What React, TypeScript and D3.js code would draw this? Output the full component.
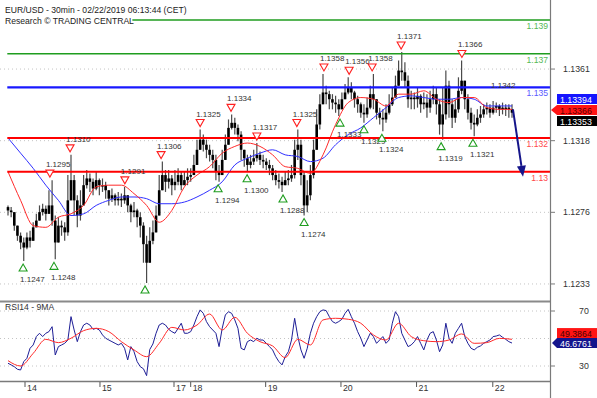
import React from 'react';
import * as d3 from 'd3';

// ---------- data (hourly bars; hour 0 = first bar on the left) ----------
const OPEN0 = 1.1279;
const closes = [
  1.1277,1.1276,1.1268,1.1262,1.1258,1.1255,1.1261,1.1259,1.1267,1.1271,
  1.1276,1.1278,1.1275,1.1280,1.1271,1.1258,1.1268,1.1267,1.1264,1.1283,
  1.1295,1.1283,1.1274,1.1280,1.1292,1.1296,1.1294,1.1290,1.1295,1.1292,
  1.1292,1.1289,1.1284,1.1286,1.1283,1.1284,1.1283,1.1286,1.1280,1.1276,
  1.1277,1.1273,1.1268,1.1257,1.1246,1.1259,1.1264,1.1274,1.1289,1.1298,
  1.1294,1.1296,1.1292,1.1294,1.1298,1.1292,1.1295,1.1297,1.1298,1.1304,
  1.1313,1.1319,1.1316,1.1313,1.1310,1.1307,1.1300,1.1298,1.1307,1.1316,
  1.1326,1.1329,1.1326,1.1322,1.1313,1.1308,1.1304,1.1306,1.1308,1.1310,
  1.1307,1.1306,1.1304,1.1302,1.1298,1.1295,1.1294,1.1292,1.1295,1.1296,
  1.1298,1.1313,1.1316,1.1298,1.1280,1.1286,1.1298,1.1313,1.1328,1.1340,
  1.1347,1.1346,1.1343,1.1341,1.1340,1.1337,1.1343,1.1347,1.1350,1.1347,
  1.1343,1.1340,1.1335,1.1334,1.1338,1.1346,1.1343,1.1335,1.1332,1.1331,
  1.1335,1.1340,1.1344,1.1351,1.1360,1.1359,1.1354,1.1343,1.1344,1.1343,
  1.1345,1.1340,1.1341,1.1338,1.1343,1.1346,1.1340,1.1328,1.1334,1.1351,
  1.1340,1.1332,1.1337,1.1348,1.1354,1.1343,1.1335,1.1329,1.1328,1.1332,
  1.1334,1.1337,1.1338,1.1335,1.1338,1.1339,1.1337,1.1338,1.1338,1.1337,
  1.1335,
];
const highs = [
  1.1280,1.1279,1.1276,1.1268,1.1264,1.1261,1.1264,1.1265,1.1270,1.1275,
  1.1280,1.1281,1.1280,1.1289,1.1295,1.1274,1.1273,1.1271,1.1270,1.1298,
  1.1310,1.1298,1.1286,1.1289,1.1298,1.1301,1.1299,1.1296,1.1300,1.1296,
  1.1296,1.1294,1.1289,1.1290,1.1287,1.1288,1.1287,1.1291,1.1286,1.1281,
  1.1282,1.1278,1.1276,1.1270,1.1262,1.1267,1.1271,1.1280,1.1298,1.1306,
  1.1301,1.1301,1.1298,1.1301,1.1302,1.1300,1.1300,1.1302,1.1302,1.1310,
  1.1319,1.1325,1.1322,1.1319,1.1316,1.1313,1.1310,1.1304,1.1313,1.1322,
  1.1331,1.1334,1.1332,1.1328,1.1324,1.1313,1.1310,1.1310,1.1313,1.1317,
  1.1312,1.1310,1.1308,1.1307,1.1304,1.1301,1.1299,1.1297,1.1300,1.1301,
  1.1304,1.1319,1.1325,1.1319,1.1300,1.1295,1.1304,1.1319,1.1337,1.1346,
  1.1358,1.1351,1.1348,1.1346,1.1345,1.1343,1.1347,1.1352,1.1356,1.1353,
  1.1348,1.1345,1.1341,1.1340,1.1344,1.1351,1.1358,1.1343,1.1338,1.1337,
  1.1340,1.1346,1.1350,1.1357,1.1366,1.1371,1.1365,1.1357,1.1348,1.1347,
  1.1350,1.1346,1.1347,1.1346,1.1348,1.1351,1.1350,1.1343,1.1350,1.1360,
  1.1354,1.1343,1.1343,1.1356,1.1366,1.1353,1.1346,1.1338,1.1334,1.1337,
  1.1339,1.1340,1.1341,1.1340,1.1342,1.1341,1.1340,1.1341,1.1340,1.1340,
  1.1340,
];
const lows = [
  1.1274,1.1273,1.1265,1.1259,1.1254,1.1247,1.1254,1.1255,1.1261,1.1268,
  1.1273,1.1274,1.1271,1.1276,1.1268,1.1248,1.1259,1.1262,1.1259,1.1262,
  1.1289,1.1274,1.1267,1.1271,1.1286,1.1290,1.1288,1.1286,1.1289,1.1286,
  1.1288,1.1284,1.1280,1.1282,1.1280,1.1280,1.1279,1.1281,1.1276,1.1270,
  1.1273,1.1267,1.1261,1.1246,1.1234,1.1251,1.1257,1.1267,1.1274,1.1292,
  1.1288,1.1290,1.1286,1.1289,1.1292,1.1289,1.1292,1.1292,1.1294,1.1298,
  1.1306,1.1313,1.1312,1.1308,1.1306,1.1302,1.1295,1.1294,1.1298,1.1307,
  1.1319,1.1325,1.1322,1.1318,1.1307,1.1303,1.1300,1.1302,1.1304,1.1306,
  1.1304,1.1302,1.1301,1.1298,1.1295,1.1292,1.1290,1.1288,1.1292,1.1292,
  1.1294,1.1296,1.1307,1.1292,1.1274,1.1276,1.1283,1.1296,1.1313,1.1325,
  1.1340,1.1340,1.1337,1.1337,1.1335,1.1333,1.1337,1.1343,1.1346,1.1343,
  1.1338,1.1335,1.1332,1.1329,1.1332,1.1337,1.1337,1.1331,1.1328,1.1324,
  1.1329,1.1334,1.1339,1.1346,1.1353,1.1354,1.1350,1.1338,1.1337,1.1337,
  1.1338,1.1335,1.1337,1.1332,1.1335,1.1340,1.1334,1.1322,1.1319,1.1331,
  1.1332,1.1326,1.1329,1.1335,1.1346,1.1337,1.1331,1.1325,1.1321,1.1327,
  1.1329,1.1332,1.1334,1.1332,1.1334,1.1335,1.1333,1.1334,1.1333,1.1332,
  1.1332,
];

// moving averages, one value every 4 hours
const MA_STEP = 4;
const maLong = [1.1320,1.1311,1.1302,1.1292,1.1283,1.1274,1.1275,1.1280,1.1283,1.1285,1.1285,1.1284,1.1281,1.1281,1.1282,1.1285,1.1289,1.1294,1.1304,1.1308,1.1311,1.1313,1.1310,1.1309,1.1306,1.1308,1.1316,1.1322,1.1326,1.1332,1.1338,1.1344,1.1345,1.1344,1.1343,1.1343,1.1344,1.1343,1.1339,1.1339,1.1339];
const maShort = [1.1300,1.1283,1.1268,1.1267,1.1273,1.1275,1.1280,1.1291,1.1292,1.1292,1.1287,1.1280,1.1270,1.1277,1.1291,1.1298,1.1303,1.1311,1.1315,1.1317,1.1315,1.1310,1.1303,1.1302,1.1299,1.1310,1.1328,1.1341,1.1344,1.1343,1.1339,1.1346,1.1346,1.1348,1.1343,1.1341,1.1344,1.1344,1.1338,1.1337,1.1337];

// RSI14 (hourly) and its 9MA (every 4 hours)
const rsi = [
  32,30.8,29.5,27.6,27.1,33.2,35.6,42.9,45.3,51.4,
  53.8,51.4,53.8,55,58.6,38,44.1,45.3,46.5,48.9,
  65.9,56.2,47.7,55,59.8,61.1,59.8,56.7,57.4,56.2,
  52.6,50.2,48.9,47.7,46.5,45.3,46.5,42.9,34.4,44.1,
  40.4,33.2,29.5,28,23,42,46,53.8,59.8,61.1,
  59.8,56.7,55,53.8,57.4,61.1,53.8,53.8,55,59.8,
  65.9,70.8,68.3,62.3,58.6,56.2,53.8,44.1,57.4,67.1,
  69.5,68.3,63.5,57.4,42.9,41.7,47.7,48.9,47.7,50.2,
  48.9,48.9,46.5,44.1,41.7,36.8,33.2,30.8,36.8,40.4,
  48.9,64.7,51.4,41.7,35.6,42.9,53.8,61.1,65.9,69.5,
  70.8,70.3,65.9,62.3,61.1,62.3,64,68.3,71.2,65.9,
  61.1,55,50.2,44.1,48.9,53.8,51.4,46.5,48.9,51.4,
  46.5,48.9,61.1,69.5,65.9,53.8,48.9,44.1,45.3,47.7,
  51.4,46.5,41.7,48.9,53.8,55,48.9,40.4,45.3,61.1,
  50.2,46.5,53.8,57.4,61.1,51.4,46.5,42.9,41.7,43.6,
  44.6,46.5,47.7,48.9,51.4,51.8,52.6,50.9,49.4,47.7,
  46.7,
];
const rsiMA = [33.9,30,39.2,49.4,47,50.2,55.7,57.4,55,47.7,41.7,36.8,46.5,58.1,56.2,59.8,67.8,56.2,65.4,53.8,47.7,44.6,36.1,49.4,45.3,63.5,64.7,64,61.1,52.6,48.9,61.1,51.4,48.4,47.7,48.9,53.3,46.5,47,50.1,49.4];

// support / resistance levels
const levelValues = [1.139, 1.137, 1.135, 1.132, 1.13];
const levelLabels = ['1.139', '1.137', '1.135', '1.132', '1.13'];
const levelStartHour = [39.7, 0, 0, 0, 0];

// swing markers
const highMarkHours = [13.3,19.7,37.1,48.6,61,70.8,79,91.7,100.3,108.3,115.6,124.8,144.1];
const highMarkValues = [1.1295,1.1310,1.1291,1.1306,1.1325,1.1334,1.1317,1.1325,1.1358,1.1356,1.1358,1.1371,1.1366];
const lowMarkHours = [4.8,14.6,43.5,66.7,75.9,87.3,94,105.4,113,118.7,137.5,147.6];
const lowMarkValues = [1.1247,1.1248,1.1234,1.1294,1.1300,1.1288,1.1274,1.1333,1.1329,1.1324,1.1319,1.1321];
const plainLabelHours = [154.3];
const plainLabelValues = [1.1342];

// projection arrow
const arrowHours = [160.3, 163.5];
const arrowValues = [1.1337, 1.1297];

// axes
const priceTicks = [1.13609, 1.13184, 1.12759, 1.12334];
const rsiTicks = [70, 50, 30];
const dayLabels = ['14', '15', '17', '18', '19', '20', '21', '22'];
const dayHours = [5.4, 29.2, 52.7, 58, 81.8, 105.7, 129.7, 153.9];

// last values
const lastLongMA = 1.13394;
const lastShortMA = 1.13366;
const lastClose = 1.13353;
const lastRsiMA = 49.3864;
const lastRsi = 46.6761;

const TITLE1 = 'EUR/USD - 30min - 02/22/2019 06:13:44 (CET)';
const TITLE2 = 'Research © TRADING CENTRAL';

const FONT = "'Liberation Sans', Arial, sans-serif";
const GREEN = '#1f9d1f';
const BLUE = '#1818ff';
const RED = '#ff0000';

export default function App() {
  const x = d3.scaleLinear().domain([0, 160]).range([8, 512]);
  const y = d3.scaleLinear().domain([1.139, 1.13]).range([20, 171.7]);
  const yr = d3.scaleLinear().domain([70, 30]).range([311, 366]);
  const f4 = d3.format('.4f');

  const maLine = d3.line<number>().x((_, i) => x(i * MA_STEP)).y(v => y(v)).curve(d3.curveMonotoneX);
  const rsiLine = d3.line<number>().x((_, i) => x(i)).y(v => yr(v));
  const rsiMaLine = d3.line<number>().x((_, i) => x(i * MA_STEP)).y(v => yr(v)).curve(d3.curveMonotoneX);

  const levelColor = [GREEN, GREEN, BLUE, RED, RED];
  const levelText = ['#55b955', '#55b955', '#5a5aff', '#ff4a4a', '#ff4a4a'];
  const levelWidth = [1.5, 1.5, 2.2, 2, 2];

  const ax0 = x(arrowHours[0]), ay0 = y(arrowValues[0]);
  const ax1 = x(arrowHours[1]), ay1 = y(arrowValues[1]);
  const ang = Math.atan2(ay1 - ay0, ax1 - ax0);
  const hl = 11, hw = 4.5;
  const bx = ax1 - hl * Math.cos(ang), by = ay1 - hl * Math.sin(ang);
  const head = [
    [ax1, ay1],
    [bx + hw * Math.sin(ang), by - hw * Math.cos(ang)],
    [bx - hw * Math.sin(ang), by + hw * Math.cos(ang)],
  ].map(p => p.join(',')).join(' ');

  const redY = y(lastShortMA);
  const rsiY = yr(lastRsi);

  return (
    <svg width={597} height={398} style={{ position: 'absolute', left: 0, top: 0, background: '#fff' }} fontFamily={FONT}>
      <defs>
        <clipPath id="mainClip"><rect x={0} y={0} width={550} height={297.5} /></clipPath>
        <clipPath id="rsiClip"><rect x={0} y={302} width={550} height={79} /></clipPath>
      </defs>
      <rect x={0} y={0} width={597} height={398} fill="#fff" />

      {/* title */}
      <text x={5} y={13} fontSize={8.6} fill="#222">{TITLE1}</text>
      <text x={5} y={24} fontSize={8.6} fill="#222">{TITLE2}</text>

      <g clipPath="url(#mainClip)">
        {priceTicks.map((t, i) => (
          <line key={i} x1={0} x2={550} y1={y(t)} y2={y(t)} stroke="#c4c4c4" strokeDasharray="1,3" />
        ))}
        {closes.map((c, i) => {
          const o = i === 0 ? OPEN0 : closes[i - 1];
          const hi = Math.max(highs[i], o, c);
          const lo = Math.min(lows[i], o, c);
          const top = y(Math.max(o, c));
          const bot = y(Math.min(o, c));
          return (
            <g key={i}>
              <line x1={x(i)} x2={x(i)} y1={y(hi)} y2={y(lo)} stroke="#4a4a4a" strokeWidth={1.2} />
              <rect x={x(i) - 1.3} y={top} width={2.6} height={Math.max(1.4, bot - top)} fill="#000" />
            </g>
          );
        })}
        <path d={maLine(maLong) || ''} fill="none" stroke="#3030ff" strokeWidth={1} />
        <path d={maLine(maShort) || ''} fill="none" stroke="#ff2a2a" strokeWidth={1} />

        {levelValues.map((v, i) => (
          <g key={i}>
            <line x1={x(levelStartHour[i]) - 0.7} x2={550} y1={y(v)} y2={y(v)} stroke={levelColor[i]} strokeWidth={levelWidth[i]} />
            <text x={548} y={y(v) + 9} fontSize={8.6} textAnchor="end" fill={levelText[i]}>{levelLabels[i]}</text>
          </g>
        ))}

        {highMarkHours.map((h, i) => {
          const cx = x(h), hy = y(highMarkValues[i]);
          return (
            <g key={'h' + i}>
              <polygon points={`${cx - 4},${hy - 10} ${cx + 4},${hy - 10} ${cx},${hy - 3}`} fill="#fff" stroke="#ff2020" strokeWidth={1.1} />
              <text x={cx - 4} y={hy - 13} fontSize={8} fill="#333">{f4(highMarkValues[i])}</text>
            </g>
          );
        })}
        {plainLabelHours.map((h, i) => (
          <text key={'p' + i} x={x(h) - 3} y={y(plainLabelValues[i]) - 13} fontSize={8} fill="#333">{f4(plainLabelValues[i])}</text>
        ))}
        {lowMarkHours.map((h, i) => {
          const cx = x(h), ly = y(lowMarkValues[i]);
          return (
            <g key={'l' + i}>
              <polygon points={`${cx},${ly + 3} ${cx - 4},${ly + 10} ${cx + 4},${ly + 10}`} fill="#fff" stroke="#1f9d1f" strokeWidth={1.1} />
              <text x={cx - 3} y={ly + 21} fontSize={8} fill="#333">{f4(lowMarkValues[i])}</text>
            </g>
          );
        })}

        <line x1={ax0} y1={ay0} x2={bx} y2={by} stroke="#15158a" strokeWidth={2} />
        <polygon points={head} fill="#15158a" />
      </g>

      {/* RSI panel */}
      <g clipPath="url(#rsiClip)">
        {rsiTicks.map((t, i) => (
          <line key={i} x1={0} x2={550} y1={yr(t)} y2={yr(t)} stroke="#c4c4c4" strokeDasharray="1,3" />
        ))}
        <path d={rsiLine(rsi) || ''} fill="none" stroke="#1e1e96" strokeWidth={1} />
        <path d={rsiMaLine(rsiMA) || ''} fill="none" stroke="#ff2a2a" strokeWidth={1} />
      </g>
      <text x={5} y={310} fontSize={8.6} fill="#333">RSI14 - 9MA</text>

      {/* frame */}
      <line x1={0} x2={550} y1={301.5} y2={301.5} stroke="#8a8a8a" strokeWidth={2} />
      <line x1={0} x2={550} y1={381.5} y2={381.5} stroke="#7a7a7a" strokeWidth={1.5} />
      <line x1={550.5} x2={550.5} y1={0} y2={398} stroke="#7a7a7a" strokeWidth={1.2} />

      {/* price axis */}
      {priceTicks.map((t, i) => (
        <g key={i}>
          <line x1={550} x2={555} y1={y(t)} y2={y(t)} stroke="#7a7a7a" />
          <text x={563} y={y(t) + 3} fontSize={8.8} fill="#333">{f4(t)}</text>
        </g>
      ))}
      {[70, 30].map((t, i) => (
        <g key={i}>
          <line x1={550} x2={555} y1={yr(t)} y2={yr(t)} stroke="#7a7a7a" />
          <text x={579} y={yr(t) + 3} fontSize={8.8} fill="#333">{t}</text>
        </g>
      ))}

      {/* last value boxes */}
      <rect x={557} y={redY - 16} width={40} height={10} fill="#1515ff" />
      <text x={560} y={redY - 7.5} fontSize={8.8} fill="#fff">{lastLongMA.toFixed(5)}</text>
      <polygon points={`551,${redY} 557,${redY - 5} 597,${redY - 5} 597,${redY + 5} 557,${redY + 5}`} fill="#ff1414" />
      <text x={560} y={redY + 3.5} fontSize={8.8} fill="#5a0000">{lastShortMA.toFixed(5)}</text>
      <rect x={557} y={redY + 6} width={40} height={10} fill="#000" />
      <text x={560} y={redY + 14.5} fontSize={8.8} fill="#fff">{lastClose.toFixed(5)}</text>

      <rect x={557} y={rsiY - 15} width={40} height={10} fill="#ff1414" />
      <text x={560} y={rsiY - 6.5} fontSize={8.8} fill="#4a0000">{lastRsiMA.toFixed(4)}</text>
      <polygon points={`552,${rsiY} 557,${rsiY - 5} 597,${rsiY - 5} 597,${rsiY + 5} 557,${rsiY + 5}`} fill="#14148c" />
      <text x={560} y={rsiY + 3.5} fontSize={8.8} fill="#fff">{lastRsi.toFixed(4)}</text>

      {/* date axis */}
      {dayHours.map((h, i) => (
        <g key={i}>
          <line x1={x(h)} x2={x(h)} y1={382} y2={387} stroke="#555" />
          <text x={x(h) + 2} y={391} fontSize={8.8} fill="#333">{dayLabels[i]}</text>
        </g>
      ))}
    </svg>
  );
}
